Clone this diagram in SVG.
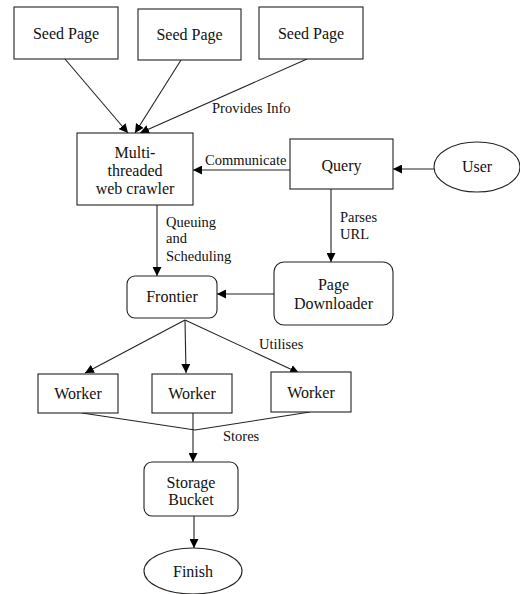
<svg xmlns="http://www.w3.org/2000/svg" width="520" height="594" viewBox="0 0 520 594">
<style>
.box{fill:#fff;stroke:#222;stroke-width:1.1}
.t{font-family:'Liberation Serif','DejaVu Serif',serif;font-size:16px;fill:#111;text-anchor:middle}
.l{font-family:'Liberation Serif','DejaVu Serif',serif;font-size:14.5px;fill:#111}
.c{fill:none;stroke:#222;stroke-width:1.1}
.a{marker-end:url(#arr)}
</style>
<defs>
<marker id="arr" viewBox="0 0 10 10" refX="10" refY="5" markerWidth="9" markerHeight="9" markerUnits="userSpaceOnUse" orient="auto">
<path d="M0,0 L10,5 L0,10 z" fill="#000"/>
</marker>
</defs>
<rect width="520" height="594" fill="#fff"/>
<g id="connectors">
<line class="c a" x1="65" y1="59" x2="128" y2="133"/>
<line class="c a" x1="181" y1="60" x2="135" y2="133"/>
<line class="c a" x1="307" y1="59" x2="140" y2="133"/>
<line class="c a" x1="290" y1="170" x2="193" y2="170"/>
<line class="c a" x1="434" y1="169" x2="393" y2="169"/>
<line class="c a" x1="331" y1="189" x2="331" y2="262"/>
<line class="c a" x1="157" y1="205" x2="157" y2="276"/>
<line class="c a" x1="274" y1="294" x2="217" y2="294"/>
<line class="c a" x1="185" y1="320" x2="85" y2="373"/>
<line class="c a" x1="185" y1="320" x2="186" y2="373"/>
<line class="c a" x1="185" y1="320" x2="299" y2="373"/>
<polyline class="c" points="82,413 195,430 310,412"/>
<line class="c a" x1="193" y1="413" x2="193" y2="462"/>
<line class="c a" x1="194" y1="516" x2="194" y2="548"/>
<text class="l" x="212" y="113">Provides Info</text>
<text class="l" x="205" y="165">Communicate</text>
<text class="l" x="340" y="222">Parses</text>
<text class="l" x="340" y="239">URL</text>
<text class="l" x="166" y="227">Queuing</text>
<text class="l" x="166" y="243">and</text>
<text class="l" x="166" y="261">Scheduling</text>
<text class="l" x="259" y="349">Utilises</text>
<text class="l" x="223" y="441">Stores</text>
</g>
<g id="seed1"><rect class="box" x="14" y="7" width="104" height="52"/><text class="t" x="66" y="39">Seed Page</text></g>
<g id="seed2"><rect class="box" x="138" y="9" width="103" height="51"/><text class="t" x="189.5" y="40">Seed Page</text></g>
<g id="seed3"><rect class="box" x="259" y="7" width="104" height="52"/><text class="t" x="311" y="39">Seed Page</text></g>
<g id="crawler"><rect class="box" x="77" y="133" width="116" height="72"/><text class="t" x="135" y="158">Multi-</text><text class="t" x="135" y="176">threaded</text><text class="t" x="135" y="194">web crawler</text></g>
<g id="query"><rect class="box" x="290" y="139" width="103" height="50"/><text class="t" x="341.5" y="171">Query</text></g>
<g id="user"><ellipse class="box" cx="477" cy="167" rx="43" ry="25"/><text class="t" x="477" y="172">User</text></g>
<g id="downloader"><rect class="box" x="274" y="262" width="119" height="63" rx="10"/><text class="t" x="333.5" y="290">Page</text><text class="t" x="333.5" y="309">Downloader</text></g>
<g id="frontier"><rect class="box" x="127" y="276" width="90" height="42" rx="8"/><text class="t" x="172" y="302">Frontier</text></g>
<g id="worker1"><rect class="box" x="38" y="374" width="80" height="39"/><text class="t" x="78" y="399">Worker</text></g>
<g id="worker2"><rect class="box" x="152" y="374" width="80" height="39"/><text class="t" x="192" y="399">Worker</text></g>
<g id="worker3"><rect class="box" x="271" y="372" width="80" height="40"/><text class="t" x="311" y="398">Worker</text></g>
<g id="storage"><rect class="box" x="144" y="462" width="94" height="54" rx="8"/><text class="t" x="191" y="488">Storage</text><text class="t" x="191" y="505">Bucket</text></g>
<g id="finish"><ellipse class="box" cx="193" cy="571" rx="49" ry="23"/><text class="t" x="193" y="577">Finish</text></g>
</svg>
